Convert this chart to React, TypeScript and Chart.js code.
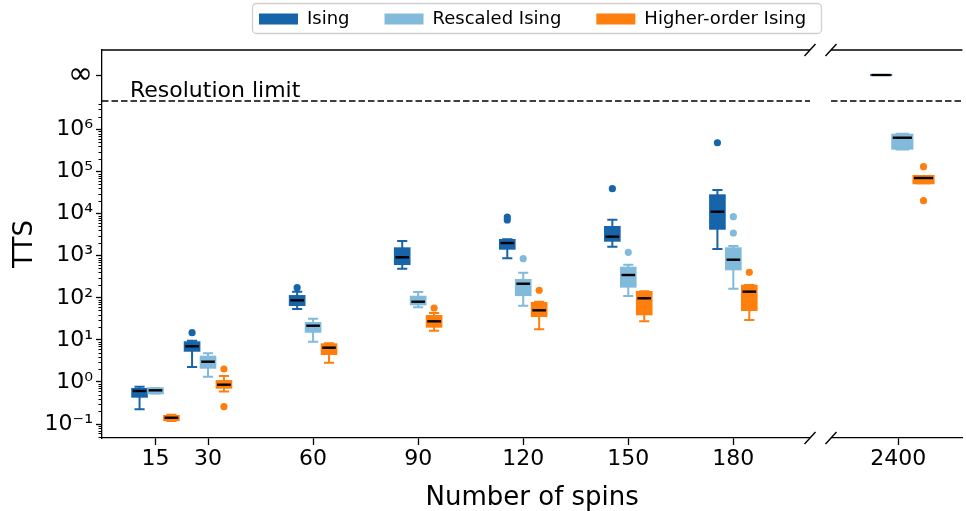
import React, { useEffect, useRef } from 'react';
import { Chart, registerables } from 'chart.js';

Chart.register(...registerables);

const FONT = 'DejaVu Sans';

// ---------- data ----------
const SPINS = ['15', '30', '60', '90', '120', '150', '180', '2400'];
const SERIES = ['Ising', 'Rescaled Ising', 'Higher-order Ising'];
const COLORS = ['#1764ab', '#82badb', '#ff7f0e'];

// Ising (Infinity = above resolution limit)
const ISING_LOW = [0.223, 2.26, 54.2, 492, 869, 1637, 1445, Infinity];
const ISING_Q1 = [0.446, 5.52, 67.5, 635, 1469, 2277, 4385, Infinity];
const ISING_MED = [0.61, 7.03, 87.1, 917, 2005, 2833, 11120, Infinity];
const ISING_Q3 = [0.68, 8.75, 110, 1500, 2366, 4820, 27300, Infinity];
const ISING_HIGH = [0.77, 9.55, 140, 2239, 2455, 7180, 36500, Infinity];
const ISING_OUT = [[], [14.8], [174], [], [7100, 8300], [39200], [485000], []];

// Rescaled Ising
const RESC_LOW = [0.53, 1.33, 9.04, 59.4, 64.9, 110, 164, 335000];
const RESC_Q1 = [0.537, 2.18, 15.6, 70, 116, 184, 475, 350000];
const RESC_MED = [0.632, 3.03, 21.7, 80.7, 216, 348, 804, 638000];
const RESC_Q3 = [0.706, 3.98, 25.2, 106, 265, 519, 1500, 753000];
const RESC_HIGH = [0.71, 4.8, 31.8, 137, 394, 612, 1703, 790000];
const RESC_OUT = [[], [], [], [], [849], [1205], [3468, 8470], []];

// Higher-order Ising
const HO_LOW = [0.118, 0.59, 2.86, 16.5, 17.8, 27.6, 29.6, 52700];
const HO_Q1 = [0.124, 0.73, 4.61, 20.6, 36.9, 40.5, 51.3, 52700];
const HO_MED = [0.141, 0.86, 6.52, 27.6, 50.4, 97.3, 140, 70300];
const HO_Q3 = [0.155, 1.05, 7.83, 36.9, 75.2, 137, 194, 78500];
const HO_HIGH = [0.166, 1.38, 8.28, 43.4, 80.7, 143, 201, 78500];
const HO_OUT = [[], [2.03, 0.258], [], [57.2], [151], [], [403], [130600, 20300]];

const Y_MAJOR = [0.1, 1, 10, 100, 1e3, 1e4, 1e5, 1e6];
const Y_MIN = 0.0465;
const Y_MAX = 7.76e7;
const RES_LIMIT = 4.75e6;
const INF_LEVEL = 1.975e7;

// ---------- layout helpers (broken x axis) ----------
const X_MIN = -0.27;
const X_MAX = 245.4;
const BREAK_AT = 200;
const RIGHT_PANEL_POS = 227.1;
const RIGHT_GROUP_SHIFT = 1.15;
const RIGHT_PANEL_SCALE = 1.33;
const SERIES_OFFSET = 4.55;
const BOX_W = 4.75;
const CAP_W = 2.9;

const STATS = [
  { low: ISING_LOW, q1: ISING_Q1, med: ISING_MED, q3: ISING_Q3, high: ISING_HIGH, out: ISING_OUT },
  { low: RESC_LOW, q1: RESC_Q1, med: RESC_MED, q3: RESC_Q3, high: RESC_HIGH, out: RESC_OUT },
  { low: HO_LOW, q1: HO_Q1, med: HO_MED, q3: HO_Q3, high: HO_HIGH, out: HO_OUT },
];

const isLeft = (lab: string) => Number(lab) <= BREAK_AT;
const xPos = (lab: string) => (isLeft(lab) ? Number(lab) : RIGHT_PANEL_POS);
const kOf = (lab: string) => (isLeft(lab) ? 1 : RIGHT_PANEL_SCALE);
const seriesX = (lab: string, si: number) =>
  xPos(lab) + (isLeft(lab) ? 0 : RIGHT_GROUP_SHIFT) + (si - 1) * SERIES_OFFSET * kOf(lab);
const fin = (v: number) => (isFinite(v) ? v : INF_LEVEL);

const SUP: Record<string, string> = {
  '-': '⁻', '0': '⁰', '1': '¹', '2': '²', '3': '³', '4': '⁴', '5': '⁵', '6': '⁶', '7': '⁷', '8': '⁸', '9': '⁹',
};
const sup = (n: number) => String(n).split('').map((c) => SUP[c]).join('');

const boxPlugin = {
  id: 'boxes',
  beforeDatasetsDraw(chart: any) {
    const { ctx, scales } = chart;
    const x = scales.x;
    const y = scales.y;
    ctx.save();
    STATS.forEach((s, si) => {
      SPINS.forEach((lab, i) => {
        const k = kOf(lab);
        const cx = seriesX(lab, si);
        const px = x.getPixelForValue(cx);
        const halfBox = (x.getPixelForValue(cx + (BOX_W * k) / 2) - x.getPixelForValue(cx - (BOX_W * k) / 2)) / 2;
        const halfCap = (x.getPixelForValue(cx + (CAP_W * k) / 2) - x.getPixelForValue(cx - (CAP_W * k) / 2)) / 2;
        const yl = y.getPixelForValue(fin(s.low[i]));
        const y1 = y.getPixelForValue(fin(s.q1[i]));
        const ym = y.getPixelForValue(fin(s.med[i]));
        const y3 = y.getPixelForValue(fin(s.q3[i]));
        const yh = y.getPixelForValue(fin(s.high[i]));
        ctx.strokeStyle = COLORS[si];
        ctx.lineWidth = 2;
        ctx.beginPath();
        ctx.moveTo(px, y1);
        ctx.lineTo(px, yl);
        ctx.moveTo(px, y3);
        ctx.lineTo(px, yh);
        ctx.moveTo(px - halfCap, yl);
        ctx.lineTo(px + halfCap, yl);
        ctx.moveTo(px - halfCap, yh);
        ctx.lineTo(px + halfCap, yh);
        ctx.stroke();
        ctx.fillStyle = COLORS[si];
        ctx.fillRect(px - halfBox, y3 - 1, halfBox * 2, y1 - y3 + 2);
        ctx.strokeStyle = '#000';
        ctx.lineWidth = 2.4;
        ctx.beginPath();
        ctx.moveTo(px - halfBox + 1.5, ym);
        ctx.lineTo(px + halfBox - 1.5, ym);
        ctx.stroke();
      });
    });
    ctx.restore();
  },
  afterLayout(chart: any) {
    const lg = chart.legend;
    if (!lg) return;
    const pad = lg.options.labels.padding;
    lg.left = 259 - pad;
    lg.right = 966;
    lg.top = 10 - pad;
    lg.bottom = 40;
  },
  afterDraw(chart: any) {
    const { ctx, chartArea, scales } = chart;
    const y = scales.y;
    const L = chartArea.left;
    const R = chartArea.right;
    const T = chartArea.top;
    const B = chartArea.bottom;
    const gapL = 810;
    const gapR = 831;
    ctx.save();
    // legend frame
    ctx.strokeStyle = '#d0d0d0';
    ctx.lineWidth = 1.3;
    ctx.beginPath();
    (ctx as any).roundRect(252.5, 3.5, 569, 30, 4);
    ctx.stroke();
    // erase x-axis border in the gap
    ctx.fillStyle = '#fff';
    ctx.fillRect(gapL, B - 3, gapR - gapL, 6);
    // top spine
    ctx.strokeStyle = '#000';
    ctx.lineWidth = 1.3;
    ctx.beginPath();
    ctx.moveTo(L, T);
    ctx.lineTo(gapL, T);
    ctx.moveTo(gapR, T);
    ctx.lineTo(R, T);
    ctx.stroke();
    // break marks
    ctx.lineWidth = 1.4;
    ctx.beginPath();
    [gapL, gapR].forEach((gx) => {
      [T, B].forEach((gy) => {
        ctx.moveTo(gx - 5.5, gy + 6);
        ctx.lineTo(gx + 5.5, gy - 6);
      });
    });
    ctx.stroke();
    // minor log ticks
    ctx.lineWidth = 1;
    ctx.beginPath();
    for (let e = -2; e <= 6; e++) {
      for (let m = 2; m <= 9; m++) {
        const v = m * Math.pow(10, e);
        if (v < Y_MIN || v > RES_LIMIT) continue;
        const py = Math.round(y.getPixelForValue(v)) + 0.5;
        ctx.moveTo(L - 3.5, py);
        ctx.lineTo(L, py);
      }
    }
    ctx.stroke();
    // resolution limit
    const ry = y.getPixelForValue(RES_LIMIT);
    ctx.setLineDash([6.5, 3]);
    ctx.lineWidth = 1.5;
    ctx.beginPath();
    ctx.moveTo(L, ry);
    ctx.lineTo(gapL, ry);
    ctx.moveTo(gapR, ry);
    ctx.lineTo(R, ry);
    ctx.stroke();
    ctx.setLineDash([]);
    ctx.fillStyle = '#000';
    ctx.font = `22px "${FONT}"`;
    ctx.textAlign = 'left';
    ctx.textBaseline = 'alphabetic';
    ctx.fillText('Resolution limit', 130, ry - 4);
    ctx.restore();
  },
};

export default function App() {
  const ref = useRef<HTMLCanvasElement | null>(null);
  useEffect(() => {
    if (!ref.current) return;
    const datasets = SERIES.map((name, si) => ({
      type: 'scatter' as const,
      label: name,
      data: SPINS.flatMap((lab, i) => STATS[si].out[i].map((v) => ({ x: seriesX(lab, si), y: v }))),
      backgroundColor: COLORS[si],
      borderColor: COLORS[si],
      borderWidth: 0,
      pointRadius: 3.6,
      pointHoverRadius: 3.6,
    }));
    const chart = new Chart(ref.current, {
      type: 'scatter',
      data: { datasets },
      options: {
        animation: false,
        responsive: false,
        devicePixelRatio: 1,
        events: [],
        layout: { padding: 0 },
        plugins: {
          tooltip: { enabled: false },
          legend: {
            position: 'top',
            align: 'start',
            maxHeight: 50,
            labels: {
              boxWidth: 39,
              boxHeight: 11,
              padding: 35,
              color: '#000',
              font: { size: 18, family: FONT },
            },
          },
        },
        scales: {
          x: {
            type: 'linear',
            min: X_MIN,
            max: X_MAX,
            afterFit: (s: any) => {
              s.height = 73;
            },
            afterBuildTicks: (s: any) => {
              s.ticks = SPINS.map((l) => ({ value: xPos(l) }));
            },
            grid: { display: true, drawOnChartArea: false, drawTicks: true, tickLength: 7, tickColor: '#000', tickWidth: 1.3 },
            border: { display: true, color: '#000', width: 1.3 },
            ticks: {
              autoSkip: false,
              maxRotation: 0,
              padding: 1,
              color: '#000',
              font: { size: 22, family: FONT },
              callback: (_v: any, i: number) => SPINS[i],
            },
            title: {
              display: true,
              text: 'Number of spins',
              color: '#000',
              font: { size: 26, family: FONT, lineHeight: 1 },
              padding: { top: 0, bottom: 0 },
            },
          },
          y: {
            type: 'logarithmic',
            min: Y_MIN,
            max: Y_MAX,
            bounds: 'data',
            afterFit: (s: any) => {
              s.width = 102;
            },
            afterBuildTicks: (s: any) => {
              s.ticks = [...Y_MAJOR, INF_LEVEL].map((v) => ({ value: v }));
            },
            grid: { display: true, drawOnChartArea: false, drawTicks: true, tickLength: 6, tickColor: '#000', tickWidth: 1.3 },
            border: { display: true, color: '#000', width: 1.3 },
            ticks: {
              autoSkip: false,
              padding: 3,
              color: '#000',
              font: (c: any) => (c.tick && c.tick.value === INF_LEVEL ? { size: 30, family: FONT } : { size: 22, family: FONT }),
              callback: (v: any) => (v === INF_LEVEL ? '∞' : '10' + sup(Math.round(Math.log10(v)))),
            },
            title: {
              display: true,
              text: 'TTS',
              color: '#000',
              font: { size: 26, family: FONT, lineHeight: 1 },
              padding: { top: 12, bottom: 0 },
            },
          },
        },
      },
      plugins: [boxPlugin],
    } as any);
    return () => chart.destroy();
  }, []);
  return (
    <div style={{ position: 'absolute', left: 0, top: 0, width: 966, height: 511, background: '#fff' }}>
      <canvas ref={ref} width={966} height={511} style={{ display: 'block', width: 966, height: 511 }} />
    </div>
  );
}
